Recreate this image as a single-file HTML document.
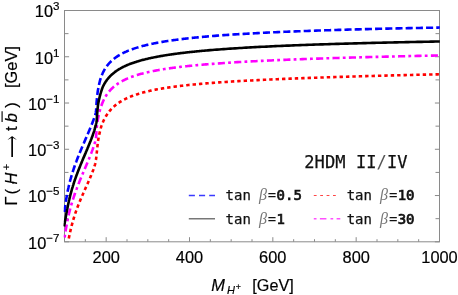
<!DOCTYPE html>
<html><head><meta charset="utf-8"><title>plot</title>
<style>html,body{margin:0;padding:0;background:#fff;overflow:hidden}svg{display:block;will-change:transform}.t{font-family:"Liberation Sans",Arial,sans-serif;fill:#000;stroke:#000;stroke-width:0.18px}.m{font-family:"DejaVu Sans Mono","Liberation Mono",monospace;fill:#111}</style></head><body>
<svg width="458" height="295" viewBox="0 0 458 295">
<rect width="458" height="295" fill="#fff"/>
<g stroke="#8a8a8a" stroke-width="1" fill="none" shape-rendering="auto">
<rect x="64.5" y="10.5" width="375.0" height="231.3"/>
<path d="M85.33,241.8 v-2.6 M106.17,241.8 v-4.6 M127.00,241.8 v-2.6 M147.83,241.8 v-2.6 M168.67,241.8 v-2.6 M189.50,241.8 v-4.6 M210.33,241.8 v-2.6 M231.17,241.8 v-2.6 M252.00,241.8 v-2.6 M272.83,241.8 v-4.6 M293.67,241.8 v-2.6 M314.50,241.8 v-2.6 M335.33,241.8 v-2.6 M356.17,241.8 v-4.6 M377.00,241.8 v-2.6 M397.83,241.8 v-2.6 M418.67,241.8 v-2.6 M439.50,241.8 v-4.6 M64.5,241.80 h4.6 M439.5,241.80 h-4.6 M64.5,218.67 h4.0 M439.5,218.67 h-4.0 M64.5,195.54 h4.6 M439.5,195.54 h-4.6 M64.5,172.41 h4.0 M439.5,172.41 h-4.0 M64.5,149.28 h4.6 M439.5,149.28 h-4.6 M64.5,126.15 h4.0 M439.5,126.15 h-4.0 M64.5,103.02 h4.6 M439.5,103.02 h-4.6 M64.5,79.89 h4.0 M439.5,79.89 h-4.0 M64.5,56.76 h4.6 M439.5,56.76 h-4.6 M64.5,33.63 h4.0 M439.5,33.63 h-4.0 M64.5,10.50 h4.6 M439.5,10.50 h-4.6"/>
</g>
<defs><clipPath id="c"><rect x="63.5" y="9.5" width="377.2" height="233.3"/></clipPath></defs>
<g clip-path="url(#c)" fill="none" stroke-width="2.6" stroke-linejoin="round">
<path d="M68.15,241.60 L68.31,240.80 L68.47,240.00 L68.58,239.47 L68.64,239.20 L68.80,238.40 L68.96,237.61 L69.01,237.35 L69.13,236.81 L69.29,236.01 L69.46,235.23 L69.46,235.21 L69.63,234.41 L69.80,233.62 L69.91,233.11 L69.98,232.82 L70.15,232.03 L70.33,231.23 L70.38,231.00 L70.51,230.44 L70.70,229.64 L70.88,228.88 L70.89,228.85 L71.08,228.06 L71.27,227.26 L71.39,226.78 L71.47,226.47 L71.67,225.68 L71.87,224.89 L71.93,224.68 L72.08,224.11 L72.29,223.32 L72.49,222.59 L72.50,222.53 L72.72,221.75 L72.94,220.96 L73.08,220.50 L73.17,220.18 L73.40,219.40 L73.63,218.62 L73.69,218.42 L73.87,217.84 L74.11,217.06 L74.33,216.35 L74.35,216.28 L74.60,215.50 L74.85,214.73 L75.00,214.29 L75.11,213.95 L75.37,213.18 L75.63,212.41 L75.69,212.23 L75.90,211.64 L76.17,210.87 L76.41,210.19 L76.44,210.10 L76.72,209.34 L77.00,208.57 L77.15,208.15 L77.28,207.81 L77.57,207.04 L77.86,206.28 L77.92,206.13 L78.15,205.52 L78.44,204.76 L78.70,204.11 L78.74,204.00 L79.05,203.25 L79.35,202.49 L79.51,202.09 L79.66,201.74 L79.97,200.98 L80.28,200.23 L80.34,200.09 L80.59,199.48 L80.91,198.73 L81.18,198.09 L81.23,197.98 L81.55,197.23 L81.87,196.48 L82.04,196.10 L82.20,195.73 L82.52,194.98 L82.85,194.24 L82.91,194.12 L83.18,193.49 L83.51,192.75 L83.78,192.14 L83.84,192.00 L84.17,191.26 L84.51,190.51 L84.67,190.16 L84.84,189.77 L85.18,189.03 L85.51,188.28 L85.56,188.18 L85.84,187.54 L86.18,186.80 L86.45,186.20 L86.51,186.05 L86.85,185.31 L87.18,184.57 L87.33,184.23 L87.51,183.82 L87.85,183.08 L88.18,182.33 L88.22,182.25 L88.51,181.59 L88.83,180.84 L89.09,180.26 L89.16,180.09 L89.48,179.35 L89.81,178.60 L89.94,178.27 L90.12,177.85 L90.44,177.10 L90.76,176.35 L90.79,176.27 L91.07,175.59 L91.37,174.84 L91.60,174.27 L91.68,174.08 L91.98,173.32 L92.27,172.56 L92.39,172.25 L92.56,171.80 L92.84,171.04 L93.12,170.27 L93.14,170.21 L93.40,169.50 L93.66,168.73 L93.85,168.17 L93.92,167.96 L94.18,167.18 L94.42,166.41 L94.52,166.10 L94.67,165.63 L94.91,164.85 L95.12,164.06 L95.13,164.02 L95.30,163.27 L95.46,162.47 L95.57,161.91 L95.61,161.67 L95.75,160.87 L95.88,160.06 L95.93,159.77 L96.00,159.26 L96.12,158.45 L96.23,157.64 L96.23,157.62 L96.33,156.83 L96.43,156.02 L96.50,155.47 L96.52,155.21 L96.61,154.40 L96.69,153.59 L96.72,153.31 L96.77,152.78 L96.85,151.97 L96.93,151.16 L96.93,151.15 L97.01,150.35 L97.09,149.53 L97.15,149.00 L97.18,148.72 L97.26,147.91 L97.35,147.10 L97.38,146.84 L97.44,146.29 L97.52,145.48 L97.61,144.68 L97.61,144.67 L97.70,143.86 L97.80,143.05 L97.86,142.53 L97.90,142.24 L98.00,141.43 L98.11,140.63 L98.14,140.38 L98.23,139.82 L98.36,139.02 L98.49,138.25 L98.50,138.22 L98.65,137.41 L98.80,136.61 L98.91,136.12 L98.97,135.81 L99.14,135.02 L99.32,134.22 L99.37,134.00 L99.50,133.42 L99.68,132.63 L99.85,131.88 L99.86,131.84 L100.05,131.04 L100.23,130.25 L100.35,129.77 L100.43,129.45 L100.63,128.66 L100.84,127.87 L100.90,127.67 L101.06,127.09 L101.30,126.31 L101.52,125.60 L101.55,125.54 L101.82,124.77 L102.12,124.01 L102.30,123.58 L102.43,123.26 L102.75,122.51 L103.08,121.76 L103.15,121.58 L103.41,121.02 L103.76,120.28 L104.08,119.62 L104.12,119.55 L104.49,118.82 L104.87,118.10 L105.09,117.71 L105.26,117.39 L105.67,116.68 L106.09,115.98 L106.18,115.83 L106.52,115.29 L106.97,114.61 L107.36,114.02 L107.42,113.93 L107.89,113.27 L108.38,112.61 L108.64,112.26 L108.87,111.96 L109.38,111.32 L109.90,110.70 L110.00,110.58 L110.43,110.08 L110.97,109.47 L111.45,108.96 L111.53,108.87 L112.10,108.29 L112.68,107.72 L112.98,107.43 L113.27,107.15 L113.87,106.60 L114.48,106.06 L114.58,105.97 L115.10,105.53 L115.73,105.02 L116.26,104.60 L116.37,104.51 L117.02,104.02 L117.68,103.54 L118.00,103.31 L118.34,103.07 L119.01,102.61 L119.69,102.16 L119.79,102.09 L120.38,101.72 L121.08,101.29 L121.64,100.96 L121.78,100.88 L122.48,100.47 L123.19,100.07 L123.53,99.89 L123.91,99.69 L124.63,99.31 L125.36,98.94 L125.45,98.90 L126.09,98.58 L126.83,98.23 L127.41,97.96 L127.57,97.89 L128.31,97.56 L129.06,97.23 L129.39,97.09 L129.81,96.92 L130.57,96.61 L131.32,96.31 L131.40,96.28 L132.08,96.01 L132.85,95.72 L133.43,95.51 L133.61,95.44 L134.38,95.17 L135.15,94.90 L135.47,94.79 L135.92,94.64 L136.70,94.39 L137.47,94.14 L137.53,94.12 L138.25,93.89 L139.03,93.65 L139.60,93.48 L139.81,93.42 L140.59,93.20 L141.38,92.98 L141.69,92.89 L142.16,92.76 L142.95,92.54 L143.74,92.33 L143.78,92.32 L144.53,92.13 L145.32,91.92 L145.88,91.78 L146.11,91.73 L146.90,91.53 L147.69,91.35 L147.99,91.28 L148.49,91.16 L149.28,90.98 L150.08,90.80 L150.10,90.80 L150.87,90.63 L151.67,90.46 L152.22,90.34 L152.47,90.29 L153.26,90.12 L154.06,89.96 L154.34,89.91 L154.86,89.80 L155.66,89.65 L156.46,89.50 L156.47,89.49 L157.26,89.34 L158.07,89.20 L158.60,89.10 L158.87,89.05 L159.67,88.91 L160.47,88.77 L160.74,88.72 L161.28,88.63 L162.08,88.50 L162.88,88.36 L162.88,88.36 L163.69,88.23 L164.49,88.10 L165.02,88.02 L165.30,87.98 L166.10,87.85 L166.91,87.73 L167.16,87.69 L167.72,87.61 L168.52,87.49 L169.30,87.37 L169.33,87.37 L170.14,87.25 L170.94,87.14 L171.45,87.07 L171.75,87.03 L172.56,86.92 L173.37,86.81 L173.60,86.78 L174.17,86.70 L174.98,86.59 L175.74,86.50 L175.79,86.49 L176.60,86.39 L177.41,86.29 L177.89,86.23 L178.22,86.19 L179.03,86.09 L179.83,85.99 L180.05,85.96 L180.64,85.89 L181.45,85.80 L182.20,85.71 L182.26,85.70 L183.07,85.61 L183.88,85.52 L184.35,85.47 L184.69,85.43 L185.50,85.34 L186.31,85.25 L186.51,85.23 L187.12,85.17 L187.93,85.08 L188.66,85.00 L188.74,84.99 L189.56,84.91 L190.37,84.83 L190.82,84.78 L191.18,84.75 L191.99,84.67 L192.80,84.59 L192.98,84.57 L193.61,84.51 L194.42,84.43 L195.13,84.36 L195.23,84.35 L196.04,84.27 L196.86,84.20 L197.29,84.16 L197.67,84.12 L198.48,84.05 L199.29,83.98 L199.45,83.96 L200.10,83.90 L200.91,83.83 L201.61,83.77 L201.73,83.76 L202.54,83.69 L203.35,83.62 L203.77,83.59 L204.16,83.55 L204.98,83.48 L205.79,83.42 L205.93,83.41 L206.60,83.35 L207.41,83.28 L208.09,83.23 L208.22,83.22 L209.04,83.15 L209.85,83.09 L210.25,83.06 L210.66,83.03 L211.47,82.96 L212.29,82.90 L212.41,82.89 L213.10,82.84 L213.91,82.78 L214.57,82.73 L214.73,82.72 L215.54,82.66 L216.35,82.60 L216.73,82.57 L217.16,82.54 L217.98,82.48 L218.79,82.42 L218.89,82.41 L219.60,82.36 L220.42,82.31 L221.06,82.26 L221.23,82.25 L222.04,82.19 L222.86,82.14 L223.22,82.11 L223.67,82.08 L224.48,82.03 L225.29,81.97 L225.38,81.97 L227.54,81.83 L229.71,81.69 L231.87,81.55 L234.03,81.42 L236.20,81.29 L238.36,81.16 L240.52,81.03 L242.69,80.91 L244.85,80.79 L247.02,80.67 L249.18,80.55 L251.34,80.44 L253.51,80.33 L255.67,80.22 L257.84,80.11 L260.00,80.00 L262.17,79.89 L264.33,79.79 L266.50,79.69 L268.66,79.59 L270.83,79.49 L272.99,79.39 L275.16,79.29 L277.32,79.20 L279.49,79.10 L281.65,79.01 L283.82,78.92 L285.99,78.83 L288.15,78.74 L290.32,78.65 L292.48,78.57 L294.65,78.48 L296.81,78.40 L298.98,78.31 L301.14,78.23 L303.31,78.15 L305.48,78.07 L307.64,77.99 L309.81,77.91 L311.97,77.83 L314.14,77.76 L316.31,77.68 L318.47,77.61 L320.64,77.53 L322.80,77.46 L324.97,77.38 L327.14,77.31 L329.30,77.24 L331.47,77.17 L333.64,77.10 L335.80,77.03 L337.97,76.96 L340.13,76.89 L342.30,76.83 L344.47,76.76 L346.63,76.69 L348.80,76.63 L350.97,76.56 L353.13,76.50 L355.30,76.43 L357.47,76.37 L359.63,76.31 L361.80,76.25 L363.97,76.18 L366.13,76.12 L368.30,76.06 L370.47,76.00 L372.63,75.94 L374.80,75.88 L376.96,75.82 L379.13,75.76 L381.30,75.71 L383.46,75.65 L385.63,75.59 L387.80,75.53 L389.96,75.48 L392.13,75.42 L394.30,75.37 L396.46,75.31 L398.63,75.26 L400.80,75.20 L402.96,75.15 L405.13,75.09 L407.30,75.04 L409.46,74.99 L411.63,74.94 L413.80,74.88 L415.97,74.83 L418.13,74.78 L420.30,74.73 L422.47,74.68 L424.63,74.63 L426.80,74.58 L428.97,74.53 L431.13,74.48 L433.30,74.43 L435.47,74.38 L437.63,74.33 L439.80,74.28" stroke="#ff0000" stroke-dasharray="3.4 3" stroke-dashoffset="-3.2"/>
<path d="M64.29,239.70 L64.40,238.89 L64.52,238.09 L64.61,237.47 L64.64,237.28 L64.76,236.47 L64.88,235.67 L64.94,235.25 L65.00,234.86 L65.12,234.06 L65.25,233.25 L65.28,233.02 L65.37,232.45 L65.50,231.64 L65.63,230.84 L65.63,230.80 L65.76,230.03 L65.89,229.23 L66.00,228.58 L66.03,228.42 L66.16,227.62 L66.30,226.82 L66.38,226.36 L66.44,226.01 L66.59,225.21 L66.74,224.41 L66.78,224.15 L66.89,223.61 L67.04,222.81 L67.19,222.01 L67.21,221.94 L67.35,221.21 L67.51,220.41 L67.65,219.73 L67.68,219.61 L67.84,218.81 L68.01,218.02 L68.12,217.53 L68.19,217.22 L68.36,216.42 L68.54,215.63 L68.61,215.33 L68.72,214.83 L68.91,214.04 L69.10,213.25 L69.12,213.14 L69.29,212.46 L69.49,211.66 L69.66,210.96 L69.68,210.87 L69.89,210.08 L70.09,209.30 L70.23,208.78 L70.30,208.51 L70.51,207.72 L70.73,206.93 L70.82,206.61 L70.95,206.15 L71.17,205.37 L71.39,204.58 L71.43,204.45 L71.62,203.80 L71.85,203.02 L72.07,202.29 L72.09,202.24 L72.33,201.46 L72.57,200.68 L72.74,200.14 L72.81,199.90 L73.06,199.13 L73.31,198.35 L73.43,198.00 L73.56,197.57 L73.82,196.80 L74.08,196.03 L74.14,195.86 L74.34,195.26 L74.61,194.49 L74.87,193.73 L74.87,193.72 L75.14,192.95 L75.42,192.18 L75.62,191.61 L75.69,191.41 L75.97,190.65 L76.25,189.88 L76.39,189.50 L76.54,189.12 L76.82,188.35 L77.11,187.59 L77.19,187.39 L77.40,186.83 L77.69,186.07 L77.99,185.31 L77.99,185.29 L78.28,184.55 L78.58,183.79 L78.82,183.20 L78.88,183.03 L79.18,182.28 L79.49,181.52 L79.65,181.11 L79.79,180.76 L80.10,180.01 L80.41,179.26 L80.50,179.03 L80.72,178.50 L81.03,177.75 L81.34,177.00 L81.36,176.95 L81.66,176.24 L81.97,175.49 L82.23,174.87 L82.29,174.74 L82.60,173.99 L82.92,173.24 L83.11,172.80 L83.24,172.49 L83.55,171.74 L83.87,170.99 L83.98,170.72 L84.19,170.24 L84.51,169.49 L84.83,168.74 L84.87,168.65 L85.15,167.99 L85.47,167.24 L85.75,166.58 L85.79,166.49 L86.11,165.74 L86.43,164.99 L86.63,164.51 L86.74,164.24 L87.06,163.48 L87.38,162.73 L87.50,162.44 L87.69,161.98 L88.01,161.23 L88.32,160.48 L88.37,160.36 L88.63,159.72 L88.94,158.97 L89.22,158.28 L89.25,158.22 L89.56,157.46 L89.86,156.70 L90.06,156.19 L90.16,155.95 L90.46,155.19 L90.76,154.43 L90.89,154.10 L91.06,153.67 L91.35,152.91 L91.64,152.15 L91.69,152.00 L91.92,151.39 L92.21,150.62 L92.47,149.89 L92.48,149.85 L92.76,149.09 L93.03,148.32 L93.22,147.77 L93.30,147.55 L93.56,146.78 L93.82,146.00 L93.94,145.63 L94.07,145.23 L94.32,144.45 L94.56,143.67 L94.62,143.49 L94.80,142.90 L95.05,142.11 L95.27,141.33 L95.27,141.33 L95.46,140.54 L95.63,139.74 L95.75,139.13 L95.78,138.94 L95.92,138.14 L96.04,137.33 L96.09,136.91 L96.13,136.52 L96.20,135.71 L96.26,134.90 L96.27,134.67 L96.31,134.09 L96.35,133.27 L96.39,132.46 L96.40,132.42 L96.44,131.64 L96.49,130.83 L96.53,130.17 L96.54,130.01 L96.60,129.20 L96.67,128.39 L96.71,127.93 L96.75,127.58 L96.83,126.77 L96.92,125.96 L96.95,125.69 L97.02,125.15 L97.12,124.34 L97.23,123.53 L97.24,123.46 L97.34,122.72 L97.47,121.92 L97.58,121.23 L97.60,121.11 L97.73,120.31 L97.87,119.50 L97.96,119.02 L98.01,118.70 L98.16,117.90 L98.31,117.10 L98.37,116.80 L98.47,116.30 L98.64,115.50 L98.81,114.70 L98.83,114.60 L98.98,113.91 L99.17,113.11 L99.34,112.41 L99.37,112.32 L99.57,111.54 L99.78,110.75 L99.93,110.24 L100.01,109.97 L100.24,109.19 L100.48,108.41 L100.59,108.09 L100.74,107.63 L101.00,106.86 L101.26,106.08 L101.31,105.95 L101.54,105.31 L101.81,104.55 L102.08,103.83 L102.10,103.78 L102.39,103.03 L102.70,102.27 L102.92,101.75 L103.02,101.52 L103.35,100.78 L103.70,100.04 L103.86,99.70 L104.05,99.31 L104.43,98.58 L104.81,97.86 L104.90,97.70 L105.21,97.15 L105.62,96.45 L106.04,95.77 L106.05,95.75 L106.49,95.06 L106.94,94.39 L107.28,93.89 L107.41,93.72 L107.89,93.06 L108.38,92.41 L108.64,92.09 L108.89,91.78 L109.42,91.15 L109.95,90.54 L110.09,90.38 L110.50,89.93 L111.06,89.34 L111.63,88.76 L111.65,88.75 L112.22,88.19 L112.81,87.64 L113.29,87.21 L113.42,87.10 L114.04,86.56 L114.67,86.05 L115.02,85.77 L115.31,85.54 L115.96,85.04 L116.61,84.56 L116.81,84.42 L117.28,84.09 L117.95,83.63 L118.63,83.18 L118.68,83.15 L119.32,82.75 L120.02,82.32 L120.60,81.98 L120.72,81.91 L121.42,81.50 L122.14,81.11 L122.56,80.88 L122.86,80.72 L123.58,80.35 L124.31,79.98 L124.57,79.86 L125.04,79.63 L125.78,79.28 L126.52,78.94 L126.60,78.91 L127.27,78.61 L128.02,78.29 L128.67,78.02 L128.77,77.98 L129.53,77.67 L130.28,77.38 L130.76,77.19 L131.05,77.08 L131.81,76.80 L132.58,76.52 L132.88,76.42 L133.34,76.25 L134.11,75.99 L134.89,75.73 L135.01,75.69 L135.66,75.48 L136.44,75.23 L137.15,75.01 L137.22,74.99 L138.00,74.75 L138.78,74.52 L139.31,74.37 L139.56,74.30 L140.35,74.08 L141.13,73.86 L141.48,73.77 L141.92,73.65 L142.71,73.44 L143.50,73.24 L143.65,73.20 L144.29,73.04 L145.08,72.84 L145.84,72.66 L145.87,72.65 L146.66,72.46 L147.46,72.28 L148.03,72.15 L148.25,72.10 L149.05,71.92 L149.85,71.75 L150.23,71.66 L150.64,71.58 L151.44,71.41 L152.24,71.25 L152.43,71.21 L153.04,71.08 L153.84,70.93 L154.64,70.77 L154.64,70.77 L155.44,70.62 L156.24,70.47 L156.85,70.35 L157.04,70.32 L157.84,70.17 L158.65,70.03 L159.07,69.96 L159.45,69.89 L160.25,69.75 L161.06,69.62 L161.28,69.58 L161.86,69.48 L162.66,69.35 L163.47,69.22 L163.50,69.22 L164.27,69.09 L165.08,68.97 L165.73,68.87 L165.88,68.85 L166.69,68.72 L167.50,68.60 L167.95,68.54 L168.30,68.49 L169.11,68.37 L169.92,68.25 L170.18,68.22 L170.72,68.14 L171.53,68.03 L172.34,67.92 L172.41,67.91 L173.15,67.81 L173.95,67.70 L174.64,67.61 L174.76,67.60 L175.57,67.49 L176.38,67.39 L176.87,67.33 L177.19,67.29 L178.00,67.19 L178.81,67.09 L179.11,67.05 L179.62,66.99 L180.42,66.90 L181.23,66.80 L181.34,66.79 L182.04,66.71 L182.85,66.62 L183.58,66.53 L183.66,66.52 L184.47,66.43 L185.28,66.34 L185.81,66.29 L186.09,66.26 L186.90,66.17 L187.72,66.08 L188.05,66.05 L188.53,66.00 L189.34,65.91 L190.15,65.83 L190.29,65.82 L190.96,65.75 L191.77,65.67 L192.53,65.59 L192.58,65.59 L193.39,65.51 L194.20,65.43 L194.77,65.37 L195.01,65.35 L195.83,65.27 L196.64,65.20 L197.01,65.16 L197.45,65.12 L198.26,65.05 L199.07,64.97 L199.25,64.96 L199.88,64.90 L200.70,64.83 L201.49,64.76 L201.51,64.76 L202.32,64.69 L203.13,64.62 L203.73,64.56 L203.94,64.55 L204.76,64.48 L205.57,64.41 L205.97,64.38 L206.38,64.34 L207.19,64.28 L208.22,64.19 L210.46,64.01 L212.70,63.84 L214.95,63.67 L217.19,63.50 L219.44,63.34 L221.68,63.18 L223.93,63.03 L226.17,62.88 L228.42,62.73 L230.66,62.59 L232.91,62.45 L235.15,62.31 L237.40,62.17 L239.65,62.04 L241.89,61.91 L244.14,61.78 L246.39,61.66 L248.63,61.54 L250.88,61.42 L253.13,61.30 L255.38,61.18 L257.62,61.07 L259.87,60.96 L262.12,60.85 L264.37,60.74 L266.61,60.63 L268.86,60.53 L271.11,60.43 L273.36,60.32 L275.60,60.23 L277.85,60.13 L280.10,60.03 L282.35,59.94 L284.60,59.84 L286.85,59.75 L289.09,59.66 L291.34,59.57 L293.59,59.48 L295.84,59.39 L298.09,59.31 L300.34,59.22 L302.59,59.14 L304.83,59.06 L307.08,58.98 L309.33,58.90 L311.58,58.82 L313.83,58.74 L316.08,58.66 L318.33,58.58 L320.58,58.51 L322.83,58.43 L325.08,58.36 L327.32,58.29 L329.57,58.22 L331.82,58.14 L334.07,58.07 L336.32,58.01 L338.57,57.94 L340.82,57.87 L343.07,57.80 L345.32,57.73 L347.57,57.67 L349.82,57.60 L352.07,57.54 L354.31,57.48 L356.56,57.41 L358.81,57.35 L361.06,57.29 L363.31,57.23 L365.56,57.17 L367.81,57.11 L370.06,57.05 L372.31,56.99 L374.56,56.93 L376.81,56.87 L379.06,56.81 L381.31,56.76 L383.56,56.70 L385.81,56.65 L388.06,56.59 L390.31,56.54 L392.56,56.48 L394.81,56.43 L397.06,56.37 L399.31,56.32 L401.55,56.27 L403.80,56.22 L406.05,56.17 L408.30,56.12 L410.55,56.06 L412.80,56.01 L415.05,55.96 L417.30,55.92 L419.55,55.87 L421.80,55.82 L424.05,55.77 L426.30,55.72 L428.55,55.67 L430.80,55.63 L433.05,55.58 L435.30,55.53 L437.55,55.49 L439.80,55.44" stroke="#ff00ff" stroke-dasharray="2.8 3.3 7.1 3.2" stroke-dashoffset="-2.2"/>
<path d="M64.53,212.00 L64.62,211.19 L64.71,210.38 L64.79,209.76 L64.81,209.57 L64.91,208.76 L65.00,207.95 L65.06,207.53 L65.10,207.14 L65.21,206.33 L65.31,205.53 L65.34,205.29 L65.42,204.72 L65.53,203.91 L65.64,203.10 L65.65,203.06 L65.76,202.30 L65.88,201.49 L65.98,200.84 L66.00,200.68 L66.12,199.88 L66.25,199.07 L66.33,198.61 L66.38,198.27 L66.52,197.47 L66.65,196.66 L66.70,196.39 L66.79,195.86 L66.94,195.06 L67.08,194.26 L67.10,194.17 L67.24,193.45 L67.39,192.65 L67.52,191.96 L67.55,191.85 L67.71,191.06 L67.87,190.26 L67.98,189.76 L68.04,189.46 L68.21,188.66 L68.39,187.87 L68.45,187.56 L68.56,187.07 L68.75,186.28 L68.93,185.48 L68.96,185.36 L69.12,184.69 L69.31,183.90 L69.49,183.18 L69.51,183.11 L69.71,182.32 L69.91,181.53 L70.05,180.99 L70.12,180.74 L70.33,179.95 L70.55,179.17 L70.64,178.82 L70.77,178.38 L70.99,177.60 L71.21,176.81 L71.26,176.65 L71.44,176.03 L71.67,175.25 L71.90,174.50 L71.91,174.47 L72.15,173.69 L72.39,172.91 L72.56,172.35 L72.63,172.13 L72.88,171.36 L73.13,170.58 L73.26,170.20 L73.39,169.81 L73.64,169.03 L73.90,168.26 L73.97,168.07 L74.17,167.49 L74.43,166.72 L74.70,165.95 L74.71,165.94 L74.97,165.18 L75.25,164.42 L75.47,163.82 L75.53,163.65 L75.81,162.88 L76.09,162.12 L76.24,161.71 L76.38,161.36 L76.66,160.59 L76.95,159.83 L77.04,159.60 L77.25,159.07 L77.54,158.31 L77.84,157.55 L77.86,157.50 L78.14,156.79 L78.44,156.04 L78.69,155.41 L78.74,155.28 L79.04,154.52 L79.35,153.77 L79.53,153.32 L79.66,153.01 L79.97,152.26 L80.28,151.51 L80.39,151.24 L80.59,150.75 L80.91,150.00 L81.22,149.25 L81.26,149.16 L81.54,148.50 L81.86,147.75 L82.14,147.09 L82.18,147.00 L82.49,146.25 L82.82,145.50 L83.02,145.02 L83.14,144.75 L83.46,144.00 L83.78,143.25 L83.91,142.95 L84.11,142.51 L84.43,141.76 L84.75,141.01 L84.81,140.88 L85.08,140.26 L85.40,139.51 L85.70,138.82 L85.73,138.77 L86.05,138.02 L86.37,137.27 L86.60,136.75 L86.70,136.52 L87.02,135.77 L87.34,135.03 L87.49,134.68 L87.67,134.28 L87.99,133.53 L88.31,132.78 L88.38,132.61 L88.63,132.03 L88.94,131.28 L89.26,130.54 L89.26,130.53 L89.58,129.78 L89.89,129.02 L90.12,128.46 L90.20,128.27 L90.51,127.52 L90.82,126.76 L90.98,126.38 L91.13,126.01 L91.43,125.25 L91.73,124.49 L91.81,124.29 L92.03,123.73 L92.33,122.98 L92.62,122.21 L92.63,122.19 L92.91,121.45 L93.20,120.69 L93.42,120.08 L93.48,119.93 L93.76,119.16 L94.03,118.39 L94.19,117.96 L94.31,117.62 L94.57,116.85 L94.83,116.08 L94.92,115.84 L95.11,115.31 L95.41,114.54 L95.66,113.76 L95.68,113.70 L95.83,112.98 L95.93,112.18 L96.00,111.51 L96.01,111.38 L96.09,110.58 L96.15,109.77 L96.18,109.27 L96.20,108.96 L96.25,108.14 L96.30,107.32 L96.31,107.02 L96.34,106.50 L96.38,105.68 L96.43,104.86 L96.43,104.75 L96.47,104.04 L96.53,103.22 L96.58,102.49 L96.59,102.41 L96.66,101.60 L96.73,100.79 L96.78,100.25 L96.80,99.97 L96.87,99.16 L96.95,98.35 L96.98,98.01 L97.03,97.54 L97.11,96.73 L97.19,95.91 L97.21,95.77 L97.28,95.10 L97.38,94.29 L97.47,93.53 L97.47,93.49 L97.58,92.68 L97.69,91.87 L97.77,91.30 L97.81,91.07 L97.94,90.26 L98.09,89.46 L98.16,89.08 L98.24,88.66 L98.39,87.86 L98.55,87.06 L98.59,86.87 L98.71,86.26 L98.87,85.46 L99.04,84.66 L99.04,84.66 L99.22,83.86 L99.40,83.07 L99.54,82.46 L99.58,82.27 L99.78,81.48 L99.98,80.69 L100.09,80.28 L100.19,79.90 L100.42,79.12 L100.65,78.35 L100.72,78.12 L100.91,77.57 L101.19,76.81 L101.48,76.04 L101.50,76.01 L101.78,75.28 L102.09,74.53 L102.36,73.93 L102.42,73.78 L102.76,73.04 L103.11,72.31 L103.32,71.89 L103.47,71.58 L103.85,70.86 L104.25,70.14 L104.38,69.90 L104.65,69.44 L105.08,68.74 L105.51,68.05 L105.56,67.98 L105.96,67.37 L106.43,66.70 L106.84,66.13 L106.91,66.04 L107.40,65.39 L107.91,64.76 L108.23,64.36 L108.43,64.13 L108.97,63.51 L109.51,62.91 L109.73,62.68 L110.08,62.32 L110.65,61.74 L111.23,61.17 L111.32,61.09 L111.83,60.62 L112.44,60.07 L113.00,59.59 L113.06,59.54 L113.69,59.02 L114.32,58.52 L114.76,58.18 L114.97,58.02 L115.63,57.54 L116.29,57.07 L116.59,56.87 L116.97,56.61 L117.65,56.16 L118.34,55.72 L118.47,55.64 L119.03,55.30 L119.73,54.88 L120.41,54.49 L120.44,54.48 L121.15,54.08 L121.87,53.69 L122.39,53.42 L122.59,53.32 L123.32,52.95 L124.05,52.59 L124.41,52.42 L124.79,52.24 L125.53,51.90 L126.27,51.57 L126.46,51.48 L127.02,51.24 L127.77,50.92 L128.52,50.61 L128.53,50.61 L129.28,50.31 L130.04,50.02 L130.63,49.79 L130.80,49.73 L131.57,49.44 L132.33,49.17 L132.75,49.02 L133.10,48.90 L133.87,48.63 L134.65,48.37 L134.88,48.30 L135.42,48.12 L136.20,47.87 L136.97,47.63 L137.02,47.61 L137.75,47.39 L138.54,47.16 L139.18,46.97 L139.32,46.93 L140.10,46.71 L140.89,46.49 L141.35,46.37 L141.67,46.28 L142.46,46.07 L143.25,45.86 L143.53,45.79 L144.04,45.66 L144.83,45.46 L145.62,45.26 L145.71,45.24 L146.41,45.07 L147.21,44.88 L147.90,44.72 L148.00,44.70 L148.79,44.52 L149.59,44.34 L150.10,44.23 L150.39,44.16 L151.18,43.99 L151.98,43.82 L152.30,43.76 L152.78,43.66 L153.58,43.49 L154.38,43.33 L154.51,43.31 L155.18,43.18 L155.98,43.02 L156.72,42.88 L156.78,42.87 L157.58,42.72 L158.38,42.57 L158.93,42.47 L159.18,42.42 L159.98,42.28 L160.79,42.14 L161.15,42.08 L161.59,42.00 L162.39,41.86 L163.20,41.73 L163.37,41.70 L164.00,41.59 L164.81,41.46 L165.59,41.34 L165.61,41.33 L166.41,41.21 L167.22,41.08 L167.82,40.99 L168.03,40.96 L168.83,40.84 L169.64,40.72 L170.04,40.66 L170.44,40.60 L171.25,40.48 L172.06,40.36 L172.27,40.33 L172.86,40.25 L173.67,40.14 L174.48,40.03 L174.50,40.02 L175.29,39.92 L176.09,39.81 L176.73,39.72 L176.90,39.70 L177.71,39.60 L178.52,39.49 L178.97,39.43 L179.33,39.39 L180.14,39.29 L180.95,39.19 L181.20,39.15 L181.75,39.09 L182.56,38.99 L183.37,38.89 L183.44,38.88 L184.18,38.80 L184.99,38.70 L185.67,38.62 L185.80,38.61 L186.61,38.52 L187.42,38.43 L187.91,38.37 L188.23,38.33 L189.04,38.25 L189.85,38.16 L190.15,38.12 L190.66,38.07 L191.47,37.98 L192.28,37.90 L192.39,37.89 L193.09,37.81 L193.90,37.73 L194.63,37.66 L194.72,37.65 L195.53,37.57 L196.34,37.48 L196.87,37.43 L197.15,37.40 L197.96,37.33 L198.77,37.25 L199.11,37.21 L199.58,37.17 L200.39,37.09 L201.20,37.02 L201.35,37.00 L202.02,36.94 L202.83,36.87 L203.59,36.80 L203.64,36.79 L204.45,36.72 L205.26,36.65 L205.84,36.60 L206.08,36.58 L206.89,36.50 L208.08,36.40 L210.32,36.21 L212.57,36.03 L214.81,35.85 L217.06,35.67 L219.30,35.50 L221.55,35.33 L223.79,35.17 L226.04,35.01 L228.29,34.85 L230.53,34.70 L232.78,34.55 L235.03,34.40 L237.27,34.26 L239.52,34.12 L241.77,33.98 L244.02,33.85 L246.26,33.72 L248.51,33.59 L250.76,33.46 L253.01,33.34 L255.26,33.22 L257.50,33.10 L259.75,32.98 L262.00,32.86 L264.25,32.75 L266.50,32.64 L268.75,32.53 L271.00,32.43 L273.25,32.32 L275.50,32.22 L277.75,32.12 L280.00,32.02 L282.25,31.92 L284.50,31.82 L286.74,31.73 L288.99,31.63 L291.24,31.54 L293.49,31.45 L295.74,31.36 L297.99,31.27 L300.24,31.19 L302.49,31.10 L304.74,31.02 L306.99,30.94 L309.24,30.86 L311.50,30.78 L313.75,30.70 L316.00,30.62 L318.25,30.54 L320.50,30.47 L322.75,30.39 L325.00,30.32 L327.25,30.25 L329.50,30.18 L331.75,30.11 L334.00,30.04 L336.25,29.97 L338.50,29.90 L340.75,29.83 L343.00,29.77 L345.25,29.70 L347.50,29.64 L349.76,29.57 L352.01,29.51 L354.26,29.45 L356.51,29.39 L358.76,29.33 L361.01,29.27 L363.26,29.21 L365.51,29.15 L367.76,29.09 L370.01,29.04 L372.26,28.98 L374.52,28.92 L376.77,28.87 L379.02,28.82 L381.27,28.76 L383.52,28.71 L385.77,28.66 L388.02,28.60 L390.27,28.55 L392.52,28.50 L394.78,28.45 L397.03,28.40 L399.28,28.35 L401.53,28.30 L403.78,28.26 L406.03,28.21 L408.28,28.16 L410.53,28.12 L412.78,28.07 L415.04,28.02 L417.29,27.98 L419.54,27.93 L421.79,27.89 L424.04,27.85 L426.29,27.80 L428.54,27.76 L430.79,27.72 L433.05,27.68 L435.30,27.63 L437.55,27.59 L439.80,27.55" stroke="#0000ff" stroke-dasharray="7.1 3.1"/>
<path d="M64.10,226.40 L64.25,225.60 L64.39,224.80 L64.50,224.18 L64.53,223.99 L64.67,223.19 L64.82,222.39 L64.89,221.96 L64.96,221.58 L65.10,220.78 L65.24,219.98 L65.28,219.74 L65.38,219.18 L65.52,218.37 L65.66,217.57 L65.67,217.52 L65.80,216.77 L65.95,215.97 L66.06,215.31 L66.09,215.16 L66.23,214.36 L66.38,213.56 L66.47,213.09 L66.53,212.76 L66.68,211.96 L66.83,211.16 L66.88,210.87 L66.98,210.35 L67.13,209.55 L67.29,208.75 L67.30,208.66 L67.44,207.95 L67.60,207.16 L67.75,206.45 L67.77,206.36 L67.93,205.56 L68.10,204.76 L68.21,204.25 L68.27,203.96 L68.44,203.17 L68.61,202.37 L68.69,202.05 L68.79,201.58 L68.97,200.78 L69.15,199.99 L69.19,199.85 L69.34,199.19 L69.53,198.40 L69.71,197.66 L69.72,197.61 L69.92,196.82 L70.11,196.03 L70.25,195.47 L70.31,195.24 L70.52,194.45 L70.73,193.66 L70.82,193.29 L70.94,192.87 L71.15,192.08 L71.37,191.30 L71.42,191.12 L71.59,190.51 L71.81,189.73 L72.03,188.95 L72.04,188.95 L72.27,188.16 L72.50,187.38 L72.68,186.79 L72.73,186.60 L72.97,185.82 L73.22,185.05 L73.34,184.64 L73.46,184.27 L73.71,183.49 L73.96,182.72 L74.03,182.49 L74.22,181.94 L74.47,181.17 L74.73,180.40 L74.75,180.36 L75.00,179.63 L75.26,178.86 L75.48,178.23 L75.53,178.09 L75.80,177.32 L76.08,176.55 L76.24,176.10 L76.35,175.78 L76.63,175.02 L76.92,174.25 L77.01,173.99 L77.20,173.49 L77.49,172.73 L77.78,171.96 L77.81,171.88 L78.07,171.20 L78.36,170.44 L78.62,169.78 L78.66,169.68 L78.96,168.92 L79.26,168.17 L79.45,167.68 L79.56,167.41 L79.86,166.65 L80.17,165.90 L80.29,165.59 L80.47,165.14 L80.78,164.39 L81.09,163.63 L81.14,163.51 L81.40,162.88 L81.72,162.13 L82.01,161.43 L82.03,161.38 L82.34,160.62 L82.66,159.87 L82.88,159.35 L82.98,159.12 L83.29,158.37 L83.61,157.62 L83.76,157.27 L83.93,156.87 L84.25,156.12 L84.57,155.37 L84.64,155.20 L84.89,154.62 L85.21,153.87 L85.52,153.13 L85.53,153.12 L85.85,152.37 L86.16,151.62 L86.41,151.05 L86.48,150.87 L86.80,150.12 L87.12,149.37 L87.28,148.98 L87.44,148.62 L87.75,147.87 L88.07,147.12 L88.16,146.90 L88.38,146.36 L88.69,145.61 L89.00,144.86 L89.02,144.82 L89.31,144.10 L89.62,143.35 L89.86,142.73 L89.92,142.59 L90.22,141.83 L90.52,141.08 L90.70,140.64 L90.82,140.32 L91.12,139.56 L91.41,138.80 L91.51,138.54 L91.69,138.03 L91.98,137.27 L92.26,136.50 L92.29,136.42 L92.54,135.74 L92.81,134.97 L93.04,134.30 L93.08,134.20 L93.34,133.43 L93.60,132.66 L93.76,132.17 L93.86,131.88 L94.10,131.11 L94.35,130.33 L94.44,130.02 L94.58,129.55 L94.81,128.77 L95.04,127.98 L95.07,127.85 L95.25,127.20 L95.46,126.41 L95.65,125.68 L95.66,125.62 L95.86,124.83 L96.04,124.03 L96.17,123.48 L96.23,123.24 L96.41,122.44 L96.55,121.64 L96.60,121.27 L96.64,120.83 L96.72,120.02 L96.78,119.21 L96.79,119.03 L96.83,118.40 L96.89,117.58 L96.94,116.78 L96.94,116.77 L97.00,115.95 L97.07,115.14 L97.12,114.53 L97.14,114.33 L97.20,113.51 L97.27,112.70 L97.30,112.28 L97.33,111.89 L97.40,111.07 L97.47,110.26 L97.49,110.03 L97.54,109.45 L97.62,108.64 L97.70,107.83 L97.70,107.79 L97.78,107.02 L97.88,106.21 L97.95,105.56 L97.97,105.40 L98.08,104.60 L98.21,103.79 L98.28,103.33 L98.34,102.99 L98.49,102.19 L98.65,101.39 L98.71,101.12 L98.82,100.59 L99.00,99.79 L99.18,98.99 L99.20,98.91 L99.36,98.20 L99.55,97.41 L99.71,96.72 L99.74,96.61 L99.94,95.82 L100.15,95.04 L100.29,94.54 L100.37,94.25 L100.60,93.47 L100.83,92.69 L100.93,92.38 L101.07,91.91 L101.32,91.13 L101.57,90.35 L101.61,90.23 L101.82,89.58 L102.09,88.80 L102.35,88.09 L102.37,88.04 L102.66,87.28 L102.97,86.53 L103.21,86.02 L103.32,85.79 L103.69,85.07 L104.09,84.35 L104.27,84.03 L104.50,83.65 L104.91,82.94 L105.34,82.25 L105.44,82.10 L105.79,81.57 L106.25,80.90 L106.71,80.25 L106.72,80.23 L107.21,79.58 L107.71,78.94 L108.10,78.47 L108.23,78.31 L108.76,77.69 L109.30,77.08 L109.58,76.78 L109.86,76.48 L110.43,75.90 L111.01,75.33 L111.17,75.17 L111.60,74.77 L112.20,74.22 L112.82,73.69 L112.84,73.67 L113.44,73.16 L114.08,72.65 L114.60,72.25 L114.72,72.15 L115.38,71.66 L116.04,71.19 L116.42,70.92 L116.71,70.73 L117.39,70.27 L118.07,69.83 L118.30,69.69 L118.76,69.40 L119.46,68.98 L120.17,68.57 L120.23,68.53 L120.88,68.17 L121.59,67.78 L122.21,67.45 L122.31,67.40 L123.04,67.03 L123.77,66.67 L124.23,66.45 L124.50,66.31 L125.24,65.97 L125.99,65.63 L126.28,65.51 L126.73,65.31 L127.48,64.99 L128.23,64.67 L128.35,64.62 L128.99,64.37 L129.75,64.07 L130.45,63.80 L130.51,63.78 L131.27,63.49 L132.04,63.21 L132.56,63.03 L132.81,62.94 L133.58,62.67 L134.35,62.41 L134.69,62.30 L135.12,62.16 L135.90,61.91 L136.68,61.66 L136.84,61.61 L137.46,61.42 L138.24,61.19 L139.00,60.96 L139.02,60.96 L139.80,60.73 L140.59,60.52 L141.17,60.36 L141.37,60.30 L142.16,60.09 L142.95,59.88 L143.35,59.78 L143.74,59.68 L144.53,59.47 L145.32,59.28 L145.53,59.22 L146.11,59.08 L146.90,58.89 L147.70,58.71 L147.72,58.70 L148.49,58.53 L149.29,58.35 L149.92,58.21 L150.08,58.17 L150.88,58.00 L151.67,57.83 L152.12,57.73 L152.47,57.66 L153.27,57.50 L154.07,57.34 L154.33,57.28 L154.87,57.18 L155.67,57.02 L156.47,56.87 L156.54,56.85 L157.27,56.72 L158.07,56.57 L158.76,56.44 L158.87,56.42 L159.68,56.28 L160.48,56.13 L160.98,56.05 L161.28,55.99 L162.08,55.86 L162.89,55.72 L163.20,55.67 L163.69,55.59 L164.50,55.45 L165.30,55.32 L165.42,55.30 L166.11,55.20 L166.91,55.07 L167.65,54.96 L167.72,54.95 L168.52,54.82 L169.33,54.70 L169.87,54.62 L170.13,54.58 L170.94,54.46 L171.75,54.35 L172.10,54.30 L172.55,54.23 L173.36,54.12 L174.17,54.01 L174.34,53.99 L174.98,53.90 L175.78,53.79 L176.57,53.69 L176.59,53.68 L177.40,53.58 L178.21,53.47 L178.80,53.40 L179.02,53.37 L179.83,53.27 L180.64,53.16 L181.04,53.12 L181.44,53.07 L182.25,52.97 L183.06,52.87 L183.28,52.84 L183.87,52.77 L184.68,52.68 L185.49,52.58 L185.51,52.58 L186.30,52.49 L187.11,52.40 L187.75,52.33 L187.92,52.31 L188.73,52.22 L189.54,52.13 L189.99,52.08 L190.35,52.04 L191.16,51.96 L191.97,51.87 L192.23,51.84 L192.78,51.79 L193.59,51.70 L194.40,51.62 L194.47,51.61 L195.21,51.54 L196.03,51.46 L196.72,51.39 L196.84,51.38 L197.65,51.30 L198.46,51.22 L198.96,51.17 L199.27,51.14 L200.08,51.06 L200.89,50.99 L201.20,50.96 L201.71,50.91 L202.52,50.83 L203.33,50.76 L203.44,50.75 L204.14,50.69 L204.95,50.61 L205.69,50.55 L205.76,50.54 L206.58,50.47 L207.93,50.35 L210.18,50.16 L212.42,49.98 L214.67,49.80 L216.92,49.62 L219.16,49.45 L221.41,49.28 L223.66,49.12 L225.90,48.96 L228.15,48.80 L230.40,48.65 L232.65,48.50 L234.90,48.35 L237.14,48.21 L239.39,48.07 L241.64,47.93 L243.89,47.80 L246.14,47.66 L248.39,47.53 L250.64,47.41 L252.89,47.28 L255.14,47.16 L257.39,47.04 L259.64,46.92 L261.89,46.81 L264.14,46.70 L266.39,46.59 L268.64,46.48 L270.89,46.37 L273.14,46.27 L275.39,46.16 L277.64,46.06 L279.89,45.96 L282.15,45.86 L284.40,45.77 L286.65,45.67 L288.90,45.58 L291.15,45.49 L293.40,45.39 L295.65,45.31 L297.90,45.22 L300.16,45.13 L302.41,45.05 L304.66,44.96 L306.91,44.88 L309.16,44.80 L311.41,44.72 L313.67,44.64 L315.92,44.56 L318.17,44.49 L320.42,44.41 L322.67,44.34 L324.92,44.26 L327.18,44.19 L329.43,44.12 L331.68,44.05 L333.93,43.98 L336.18,43.91 L338.44,43.84 L340.69,43.77 L342.94,43.71 L345.19,43.64 L347.45,43.58 L349.70,43.51 L351.95,43.45 L354.20,43.39 L356.45,43.33 L358.71,43.27 L360.96,43.21 L363.21,43.15 L365.46,43.09 L367.72,43.03 L369.97,42.98 L372.22,42.92 L374.47,42.87 L376.73,42.81 L378.98,42.76 L381.23,42.70 L383.48,42.65 L385.74,42.60 L387.99,42.54 L390.24,42.49 L392.49,42.44 L394.75,42.39 L397.00,42.34 L399.25,42.29 L401.50,42.25 L403.76,42.20 L406.01,42.15 L408.26,42.10 L410.51,42.06 L412.77,42.01 L415.02,41.96 L417.27,41.92 L419.53,41.87 L421.78,41.83 L424.03,41.79 L426.28,41.74 L428.54,41.70 L430.79,41.66 L433.04,41.62 L435.29,41.57 L437.55,41.53 L439.80,41.49" stroke="#000"/>
</g>
<text class="t" x="106.2" y="263.1" font-size="16.4" text-anchor="middle">200</text>
<text class="t" x="189.5" y="263.1" font-size="16.4" text-anchor="middle">400</text>
<text class="t" x="272.8" y="263.1" font-size="16.4" text-anchor="middle">600</text>
<text class="t" x="356.2" y="263.1" font-size="16.4" text-anchor="middle">800</text>
<text class="t" x="439.5" y="263.1" font-size="16.4" text-anchor="middle">1000</text>
<text class="t" x="59.5" y="17.3" font-size="16.4" text-anchor="end">10<tspan dy="-7.1" font-size="11.6">3</tspan></text>
<text class="t" x="59.5" y="63.6" font-size="16.4" text-anchor="end">10<tspan dy="-7.1" font-size="11.6">1</tspan></text>
<text class="t" x="59.5" y="109.8" font-size="16.4" text-anchor="end">10<tspan dy="-7.1" font-size="11.6">−1</tspan></text>
<text class="t" x="59.5" y="156.1" font-size="16.4" text-anchor="end">10<tspan dy="-7.1" font-size="11.6">−3</tspan></text>
<text class="t" x="59.5" y="202.3" font-size="16.4" text-anchor="end">10<tspan dy="-7.1" font-size="11.6">−5</tspan></text>
<text class="t" x="59.5" y="248.6" font-size="16.4" text-anchor="end">10<tspan dy="-7.1" font-size="11.6">−7</tspan></text>
<text class="t" x="211.2" y="291.3" font-size="16.4"><tspan font-style="italic">M</tspan><tspan dx="2.2" dy="2.4" font-size="11" font-style="italic">H</tspan><tspan dx="0.8" dy="-3.6" font-size="8.8">+</tspan><tspan dx="11.4" dy="1.2" font-size="16.2">[GeV]</tspan></text>
<g transform="translate(16.8,204.2) rotate(-90)" class="t" font-size="16.4"><text x="-1.2" y="0">Γ</text><text x="9.6" y="0">(</text><text x="19.8" y="0" font-style="italic">H</text><text x="33.9" y="-6.9" font-size="11">+</text><text x="73.2" y="0">t</text><text x="82.0" y="0" font-style="italic">b</text><text x="96.5" y="0">)</text><text x="116.2" y="0">[GeV]</text><text transform="translate(45.6,0.95) scale(1.01,1.3)" x="0" y="0" font-family="DejaVu Math TeX Gyre,DejaVu Sans,sans-serif" style="stroke:none">⟶</text><path d="M82.2,-14.7 H92.9" fill="none" stroke="#111" stroke-width="1.2"/></g>
<text class="m" x="304.2" y="168.0" font-size="17.1" stroke="#111" stroke-width="0.25" textLength="103.4" lengthAdjust="spacing">2HDM II<tspan fill="#555" stroke="none">/</tspan>IV</text>
<text class="m" x="225.6" y="200.4" font-size="14" stroke="#111" stroke-width="0.25">tan </text><text x="258.9" y="200.4" font-size="16" font-style="italic" font-family="'Liberation Serif',serif" fill="#777">β</text><text class="m" x="267.8" y="200.4" font-size="14" fill="#a4a4a4">=</text><text class="m" x="276.6" y="200.4" font-size="14" stroke="#111" stroke-width="0.7">0.5</text>
<text class="m" x="225.6" y="224.0" font-size="14" stroke="#111" stroke-width="0.25">tan </text><text x="258.9" y="224.0" font-size="16" font-style="italic" font-family="'Liberation Serif',serif" fill="#777">β</text><text class="m" x="267.8" y="224.0" font-size="14" fill="#a4a4a4">=</text><text class="m" x="276.6" y="224.0" font-size="14" stroke="#111" stroke-width="0.7">1</text>
<text class="m" x="346.7" y="200.4" font-size="14" stroke="#111" stroke-width="0.25">tan </text><text x="380.0" y="200.4" font-size="16" font-style="italic" font-family="'Liberation Serif',serif" fill="#777">β</text><text class="m" x="388.9" y="200.4" font-size="14" fill="#a4a4a4">=</text><text class="m" x="397.7" y="200.4" font-size="14" stroke="#111" stroke-width="0.7">10</text>
<text class="m" x="346.7" y="224.0" font-size="14" stroke="#111" stroke-width="0.25">tan </text><text x="380.0" y="224.0" font-size="16" font-style="italic" font-family="'Liberation Serif',serif" fill="#777">β</text><text class="m" x="388.9" y="224.0" font-size="14" fill="#a4a4a4">=</text><text class="m" x="397.7" y="224.0" font-size="14" stroke="#111" stroke-width="0.7">30</text>
<g fill="none">
<path d="M188.8,195.5 H215" stroke="#3a3aff" stroke-width="1.3" stroke-dasharray="6.1 4.1"/>
<path d="M188.8,218.8 H215" stroke="#555" stroke-width="1.2"/>
<path d="M313.8,195.5 H338" stroke="#ff4545" stroke-width="1.15" stroke-dasharray="2.8 3.6"/>
<path d="M313.8,218.8 H340.3" stroke="#ff50ff" stroke-width="1.5" stroke-dasharray="2.7 3.4 6.5 4.1"/>
</g>
</svg></body></html>
